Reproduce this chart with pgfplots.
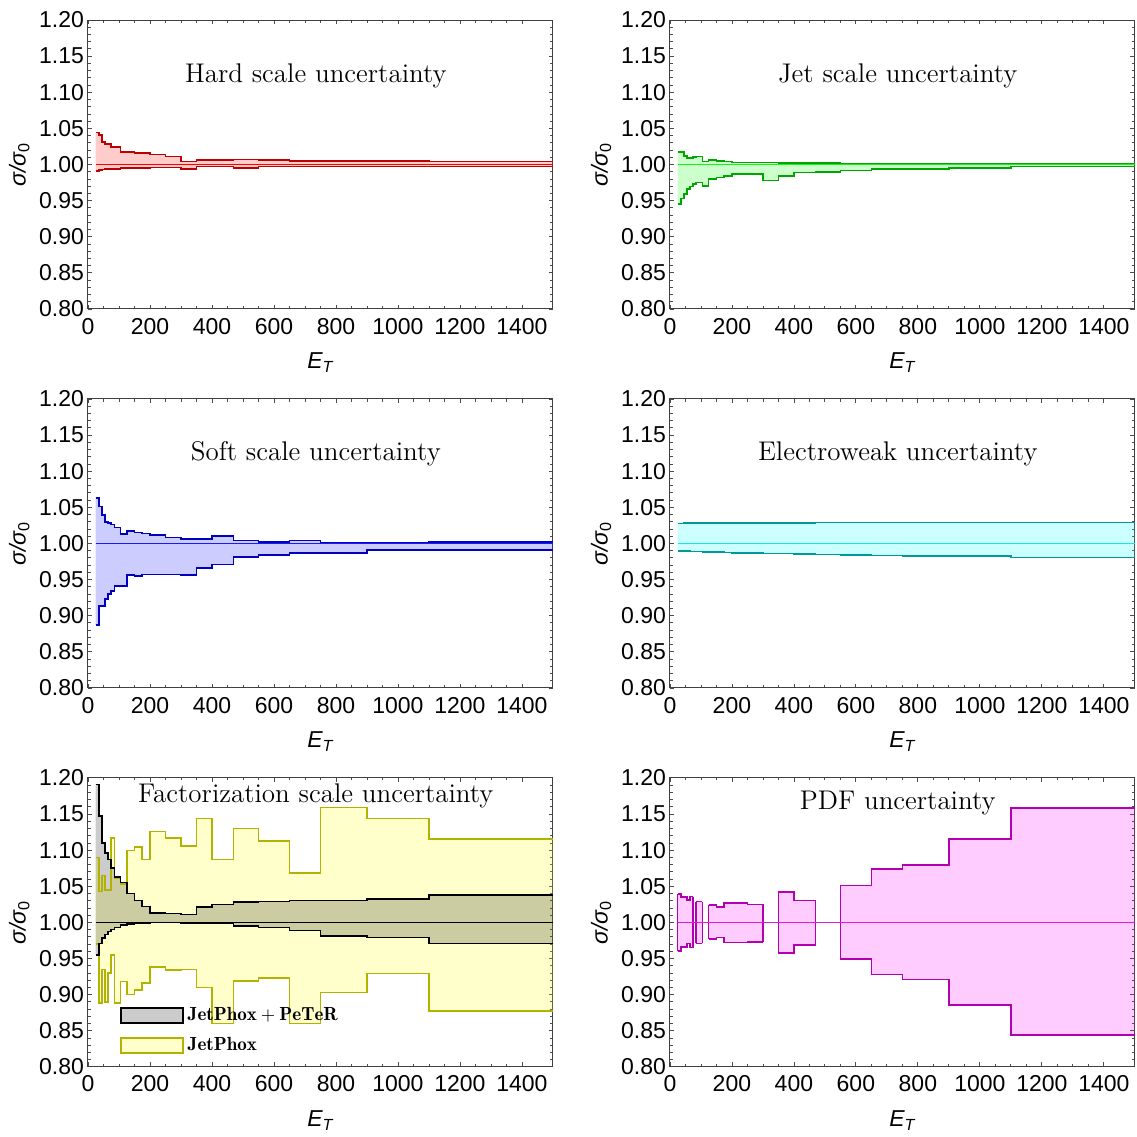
\documentclass[border=0pt]{standalone}
\usepackage{fontspec}
\usepackage{pgfplots}
\pgfplotsset{compat=1.18}
\usepackage{pgfplotstable}
\usepgfplotslibrary{groupplots,fillbetween}
\newfontfamily\arial{Liberation Sans}

% bins: value at x holds until the next x (last row repeats the last bin)
\pgfplotstableread{
x    lo     hi
25   0.991  1.044
35   0.992  1.041
45   0.993  1.031
55   0.994  1.028
65   0.994  1.028
75   0.9935 1.024
85   0.9935 1.024
105  0.9954 1.017
125  0.9954 1.017
150  0.9955 1.016
175  0.9955 1.016
200  0.996  1.014
250  0.996  1.011
300  0.994  1.004
350  0.997  1.0065
400  0.997  1.0065
470  0.995  1.007
550  0.997  1.006
650  0.997  1.005
750  0.997  1.005
900  0.997  1.005
1100 0.997  1.004
1500 0.997  1.004
}\hard

\pgfplotstableread{
x    lo     hi
25   0.945  1.0176
35   0.953  1.0176
45   0.959  1.012
55   0.966  1.009
65   0.9695 1.009
75   0.973  1.010
85   0.975  1.011
105  0.970  1.004
125  0.980  1.006
150  0.982  1.005
175  0.984  1.004
200  0.9866 1.003
250  0.987  1.003
300  0.978  1.003
350  0.984  1.002
400  0.989  1.002
470  0.990  1.002
550  0.9917 1.001
650  0.9935 1.001
750  0.994  1.001
900  0.995  1.001
1100 0.997  1.001
1500 0.997  1.001
}\jet

\pgfplotstableread{
x    lo     hi
25   0.887  1.063
35   0.913  1.051
45   0.913  1.039
55   0.923  1.030
65   0.930  1.028
75   0.934  1.026
85   0.941  1.022
105  0.941  1.013
125  0.956  1.017
150  0.955  1.015
175  0.957  1.014
200  0.957  1.012
250  0.957  1.008
300  0.956  1.006
350  0.966  1.006
400  0.971  1.010
470  0.981  1.004
550  0.984  1.002
650  0.987  1.004
750  0.987  1.001
900  0.991  1.001
1100 0.991  1.002
1500 0.991  1.002
}\soft

\pgfplotstableread{
x    lo     hi
25   0.9898 1.0278
35   0.9896 1.0278
45   0.9894 1.0279
55   0.9892 1.0279
65   0.9890 1.0280
75   0.9888 1.0280
85   0.9886 1.0280
105  0.9884 1.0281
125  0.9881 1.0281
150  0.9878 1.0282
175  0.9876 1.0282
200  0.9870 1.0283
250  0.9868 1.0283
300  0.9861 1.0284
350  0.9858 1.0285
400  0.9852 1.0286
470  0.9847 1.0287
550  0.9838 1.0288
650  0.9833 1.0289
750  0.9829 1.0290
900  0.9824 1.0291
1100 0.9806 1.0292
1500 0.9806 1.0292
}\ew

\pgfplotstableread{
x    lo     hi
25   0.955  1.191
35   0.971  1.147
45   0.978  1.110
55   0.983  1.096
65   0.9875 1.087
75   0.990  1.075
85   0.993  1.0625
105  0.996  1.055
125  0.998  1.040
150  0.9985 1.030
175  0.9985 1.022
200  1.000  1.013
250  1.000  1.012
300  0.999  1.011
350  0.999  1.021
400  0.999  1.025
470  0.995  1.028
550  0.993  1.029
650  0.989  1.0305
750  0.9815 1.0305
900  0.979  1.032
1100 0.971  1.0375
1500 0.971  1.0375
}\jpp

\pgfplotstableread{
x    lo     hi
25   0.970  1.090
35   0.888  1.043
45   0.935  1.065
55   0.890  1.045
65   0.930  1.045
75   0.955  1.117
85   0.888  1.061
105  0.918  1.053
125  0.900  1.0995
150  0.906  1.104
175  0.916  1.087
200  0.938  1.126
250  0.934  1.117
300  0.935  1.106
350  0.910  1.144
400  0.860  1.087
470  0.919  1.130
550  0.923  1.1125
650  0.860  1.068
750  0.903  1.159
900  0.929  1.144
1100 0.877  1.115
1500 0.877  1.115
}\jp

\pgfplotstableread{
x   lo     hi
25  0.960  1.039
35  0.966  1.035
55  0.971  1.031
65  0.965  1.0356
75  0.965  1.0356
}\pdfa
\pgfplotstableread{
x   lo     hi
85  0.971  1.0287
105 0.971  1.0287
}\pdfb
\pgfplotstableread{
x   lo     hi
125 0.977  1.024
150 0.979  1.021
175 0.972  1.027
200 0.972  1.0265
250 0.973  1.025
300 0.973  1.025
}\pdfc
\pgfplotstableread{
x   lo     hi
350 0.958  1.042
400 0.969  1.030
470 0.969  1.030
}\pdfd
\pgfplotstableread{
x    lo     hi
550  0.949  1.051
650  0.928  1.074
750  0.921  1.079
900  0.886  1.115
1100 0.844  1.158
1500 0.844  1.158
}\pdfe

\definecolor{hardE}{rgb}{0.75,0,0}
\definecolor{hardC}{rgb}{1,0,0}
\definecolor{hardF}{rgb}{1,0,0}
\definecolor{jetE}{rgb}{0,0.65,0}
\definecolor{jetC}{rgb}{0.1,0.95,0.1}
\definecolor{jetF}{rgb}{0,1,0}
\definecolor{softE}{rgb}{0,0,0.75}
\definecolor{softC}{rgb}{0.1,0.1,1}
\definecolor{softF}{rgb}{0,0,1}
\definecolor{ewE}{rgb}{0,0.6,0.6}
\definecolor{ewC}{rgb}{0.1,0.9,0.9}
\definecolor{ewF}{rgb}{0,1,1}
\definecolor{pdfE}{rgb}{0.7,0,0.7}
\definecolor{pdfC}{rgb}{0.9,0.1,0.9}
\definecolor{pdfF}{rgb}{1,0,1}
\definecolor{jpE}{rgb}{0.7,0.7,0}
\definecolor{jpF}{rgb}{1,1,0}
\definecolor{jpL}{rgb}{1,1,0.8}

% draws one band: #1 table, #2 edge colour, #3 fill colour, #4 path suffix
\newcommand{\band}[4]{%
  \addplot[name path=hi#4, const plot mark left, draw=#2, line width=0.8pt] table[x=x,y=hi]{#1};
  \addplot[name path=lo#4, const plot mark left, draw=#2, line width=0.8pt] table[x=x,y=lo]{#1};
  \addplot[fill=#3, fill opacity=0.2, draw=none] fill between[of=hi#4 and lo#4];
}
% closing edge of a PDF block: x, lo, hi
\newcommand{\vedge}[3]{%
  \addplot[pdfE, line width=0.8pt] coordinates {(#1,#2)(#1,#3)};
}

\begin{document}
\begin{tikzpicture}
\begin{groupplot}[
  group style={group size=2 by 3, horizontal sep=58.5pt, vertical sep=45pt},
  scale only axis, width=232.5pt, height=144.5pt,
  set layers,
  xmin=0, xmax=1500, ymin=0.8, ymax=1.2,
  xtick={0,200,...,1400}, ytick={0.80,0.85,...,1.21},
  minor x tick num=3, minor y tick num=4,
  tick align=inside,
  major tick length=2.2pt, minor tick length=1.3pt,
  tick style={gray!60!black, line width=0.4pt},
  axis line style={black!75, line width=0.5pt},
  ticklabel style={font=\arial\fontsize{11.5}{12}\selectfont},
  /pgf/number format/assume math mode=true,
  yticklabel style={xshift=1.5pt, /pgf/number format/.cd, fixed, fixed zerofill, precision=2},
  xticklabel style={yshift=-1pt, /pgf/number format/.cd, 1000 sep={}},
  xlabel={\arial\itshape E\textsubscript{T}},
  ylabel={\arial\itshape σ/σ\textsubscript{\upshape 0}},
  label style={font=\arial\fontsize{11.5}{12}\selectfont},
  xlabel style={yshift=-2.5pt},
  ylabel style={yshift=-2pt},
  clip=true,
]
% Hard scale
\nextgroupplot
\coordinate (tl) at (rel axis cs:0,1);
\band{\hard}{hardE}{hardF}{a}
\addplot[hardC, line width=0.7pt] coordinates {(25,1)(1500,1)};
\node[font=\fontsize{13.5}{15}\selectfont] at (rel axis cs:0.49,0.806) {Hard scale uncertainty};

% Jet scale
\nextgroupplot
\band{\jet}{jetE}{jetF}{b}
\addplot[jetC, line width=0.9pt] coordinates {(25,1)(1500,1)};
\node[font=\fontsize{13.5}{15}\selectfont] at (rel axis cs:0.49,0.806) {Jet scale uncertainty};

% Soft scale
\nextgroupplot
\band{\soft}{softE}{softF}{c}
\addplot[softC, line width=0.7pt] coordinates {(25,1)(1500,1)};
\node[font=\fontsize{13.5}{15}\selectfont] at (rel axis cs:0.49,0.809) {Soft scale uncertainty};

% Electroweak
\nextgroupplot
\band{\ew}{ewE}{ewF}{d}
\addplot[ewC, line width=0.7pt] coordinates {(25,1)(1500,1)};
\node[font=\fontsize{13.5}{15}\selectfont] at (rel axis cs:0.49,0.809) {Electroweak uncertainty};

% Factorization scale
\nextgroupplot[
  legend cell align=left,
  legend style={draw=none, fill=none, at={(axis cs:103,0.812)}, anchor=south west,
    inner sep=0pt, row sep=3pt, font=\fontsize{9.5}{11}\selectfont},
  legend image code/.code={\draw[#1] (0pt,-3.75pt) rectangle (31pt,3.75pt);},
]
\addlegendimage{draw=black, line width=0.7pt, fill=black!20}
\addlegendentry{$\mathbf{JetPhox+PeTeR}$}
\addlegendimage{draw=jpE, line width=0.7pt, fill=jpL}
\addlegendentry{$\mathbf{JetPhox}$}
\band{\jp}{jpE}{jpF}{e}
\band{\jpp}{black}{black}{f}
\addplot[black, line width=0.7pt] coordinates {(25,1)(1500,1)};
\node[font=\fontsize{13.5}{15}\selectfont] at (rel axis cs:0.49,0.9375) {Factorization scale uncertainty};

% PDF
\nextgroupplot
\coordinate (br) at (rel axis cs:1,0);
\band{\pdfa}{pdfE}{pdfF}{g}
\band{\pdfb}{pdfE}{pdfF}{h}
\band{\pdfc}{pdfE}{pdfF}{i}
\band{\pdfd}{pdfE}{pdfF}{j}
\band{\pdfe}{pdfE}{pdfF}{k}
\vedge{25}{0.960}{1.039}\vedge{75}{0.965}{1.0356}
\vedge{85}{0.971}{1.0287}\vedge{105}{0.971}{1.0287}
\vedge{125}{0.977}{1.024}\vedge{300}{0.973}{1.025}
\vedge{350}{0.958}{1.042}\vedge{470}{0.969}{1.030}
\vedge{550}{0.949}{1.051}
\addplot[pdfC, line width=0.7pt] coordinates {(25,1)(1500,1)};
\node[font=\fontsize{13.5}{15}\selectfont] at (rel axis cs:0.49,0.913) {PDF uncertainty};
\end{groupplot}
\path ([xshift=-44pt,yshift=10pt]tl) rectangle ([xshift=1pt,yshift=-33pt]br);
\end{tikzpicture}
\end{document}
